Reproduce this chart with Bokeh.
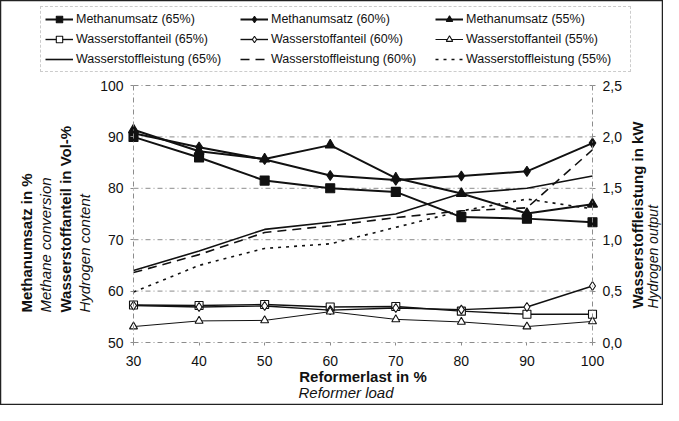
import math
from bokeh.plotting import figure
from bokeh.models import (Range1d, LinearAxis, FixedTicker, CustomJSTickFormatter,
                          Legend, LegendItem, Label)
from bokeh.embed import file_html
from bokeh.resources import INLINE

# ---------------- data ----------------
load = [30, 40, 50, 60, 70, 80, 90, 100]

methan_65 = [90.0, 86.0, 81.5, 80.0, 79.3, 74.4, 74.1, 73.4]
methan_60 = [90.7, 88.0, 85.6, 82.5, 81.6, 82.4, 83.3, 88.8]
methan_55 = [91.4, 87.2, 85.7, 88.4, 82.0, 79.0, 75.1, 76.9]

h2_65 = [57.3, 57.2, 57.4, 56.9, 57.0, 56.1, 55.5, 55.5]
h2_60 = [57.2, 56.9, 57.1, 56.3, 56.7, 56.4, 56.9, 61.0]
h2_55 = [53.1, 54.2, 54.3, 56.0, 54.5, 54.0, 53.1, 54.1]

power_65 = [0.70, 0.89, 1.10, 1.17, 1.25, 1.45, 1.50, 1.62]
power_60 = [0.68, 0.855, 1.07, 1.135, 1.215, 1.28, 1.31, 1.875]
power_55 = [0.49, 0.75, 0.915, 0.96, 1.12, 1.28, 1.395, 1.30]

left_ticks = [50, 60, 70, 80, 90, 100]
right_ticks = [0.0, 0.5, 1.0, 1.5, 2.0, 2.5]

FONT = "Liberation Sans"
INK = "#111111"
GRID = "#8c8c8c"

# ---------------- layout (pixels) ----------------
W, H = 663, 405
L, R, T, B = 133, 71, 85, 63
FW, FH = W - L - R, H - T - B
X0, X1 = 30, 100
Y0, Y1 = 50, 100
xu = (X1 - X0) / FW
yu = (Y1 - Y0) / FH
xr = Range1d(X0 - L * xu, X1 + R * xu)
yr = Range1d(Y0 - B * yu, Y1 + T * yu)

def to_kw(v):
    return (v - 50) / 20.0

p = figure(width=W, height=H, x_range=xr, y_range=yr,
           output_backend="svg", toolbar_location=None,
           x_axis_location=None, y_axis_location=None,
           min_border=0, min_border_left=0, min_border_right=0,
           min_border_top=0, min_border_bottom=0)
p.title.visible = False
p.outline_line_color = "#222222"
p.outline_line_width = 1.5
p.background_fill_color = "white"
p.border_fill_color = "white"
p.xgrid.visible = False
p.ygrid.visible = False
p.extra_y_ranges = {"kw": Range1d(to_kw(yr.start), to_kw(yr.end))}

xax = LinearAxis(ticker=FixedTicker(ticks=load), fixed_location=Y0, bounds=(X0, X1))
yax = LinearAxis(ticker=FixedTicker(ticks=left_ticks), fixed_location=X0, bounds=(Y0, Y1))
rax = LinearAxis(y_range_name="kw", ticker=FixedTicker(ticks=right_ticks),
                 fixed_location=X1, bounds=(0.0, 2.5),
                 formatter=CustomJSTickFormatter(code="return tick.toFixed(1).replace('.', ',');"))
p.add_layout(xax, "below")
p.add_layout(yax, "left")
p.add_layout(rax, "right")

for ax in [xax, yax, rax]:
    ax.axis_line_color = GRID
    ax.axis_line_dash = "5 3 1 3"
    ax.major_tick_in = 0
    ax.major_tick_out = 3
    ax.major_tick_line_color = GRID
    ax.minor_tick_line_color = None
    ax.major_label_text_font = FONT
    ax.major_label_text_font_size = "14px"
    ax.major_label_text_color = INK
    ax.major_label_standoff = 7
xax.major_label_standoff = 10

# horizontal grid lines across the plot area only
gt = left_ticks[1:]
p.segment(x0=[X0] * len(gt), y0=gt, x1=[X1] * len(gt), y1=gt,
          line_color=GRID, line_width=1, line_dash="5 3 1 3")

def series(y, marker, fill, lw, size, label, rng="default", dash="solid"):
    kw = {} if rng == "default" else {"y_range_name": rng}
    r_line = p.line(load, y, line_color=INK, line_width=lw, line_dash=dash, **kw)
    rs = [r_line]
    if marker is not None:
        r_m = p.scatter(load, y, marker=marker, size=size, line_color=INK, line_width=1.1,
                        fill_color=fill, **kw)
        rs.append(r_m)
    return LegendItem(label=label, renderers=rs)

it_w65 = series(h2_65, "square", "white", 1.4, 8, "Wasserstoffanteil (65%)")
it_w60 = series(h2_60, "diamond", "white", 1.4, 9, "Wasserstoffanteil (60%)")
it_w55 = series(h2_55, "triangle", "white", 1.0, 8, "Wasserstoffanteil (55%)")
it_l65 = series(power_65, None, None, 1.6, 0, "Wasserstoffleistung (65%)", "kw", "solid")
it_l60 = series(power_60, None, None, 1.6, 0, "Wasserstoffleistung (60%)", "kw", "9 6")
it_l55 = series(power_55, None, None, 1.6, 0, "Wasserstoffleistung (55%)", "kw", "3 5")
it_m65 = series(methan_65, "square", INK, 2.0, 9, "Methanumsatz (65%)")
it_m60 = series(methan_60, "diamond", INK, 2.0, 10, "Methanumsatz (60%)")
it_m55 = series(methan_55, "triangle", INK, 2.0, 10, "Methanumsatz (55%)")

legend = Legend(items=[it_m65, it_m60, it_m55, it_w65, it_w60, it_w55, it_l65, it_l60, it_l55],
                orientation="horizontal", ncols=3, location=(40, H - 72),
                glyph_width=28, glyph_height=16, label_height=16, label_width=160,
                label_standoff=3, spacing=4, padding=4, margin=0,
                label_text_font=FONT, label_text_font_size="12.5px", label_text_color=INK,
                border_line_color="#9a9a9a", border_line_dash="4 3", border_line_width=1,
                background_fill_color="white", background_fill_alpha=1.0)
p.add_layout(legend, "center")

def lab(text, cx, cy, bold=False, italic=False, angle=0.0, align="left", size="15px"):
    style = "bold" if bold else ("italic" if italic else "normal")
    p.add_layout(Label(x=xr.start + cx * xu, y=yr.end - cy * yu, text=text,
                       text_font=FONT, text_font_size=size, text_font_style=style,
                       text_color=INK, angle=angle, text_align=align, text_baseline="middle"))

rot = math.pi / 2
lab("Methanumsatz in %", 26, 312, bold=True, angle=rot)
lab("Methane conversion", 45, 312, italic=True, angle=rot)
lab("Wasserstoffanteil in Vol-%", 65, 312, bold=True, angle=rot)
lab("Hydrogen content", 84, 312, italic=True, angle=rot)
lab("Wasserstoffleistung in kW", 637, 308, bold=True, angle=rot)
lab("Hydrogen output", 652, 308, italic=True, angle=rot, size="14px")
lab("Reformerlast in %", L + FW / 2, 376, bold=True, align="center")
lab("Reformer load", 298, 392, italic=True)

open("out.html", "w").write(file_html(p, INLINE))
